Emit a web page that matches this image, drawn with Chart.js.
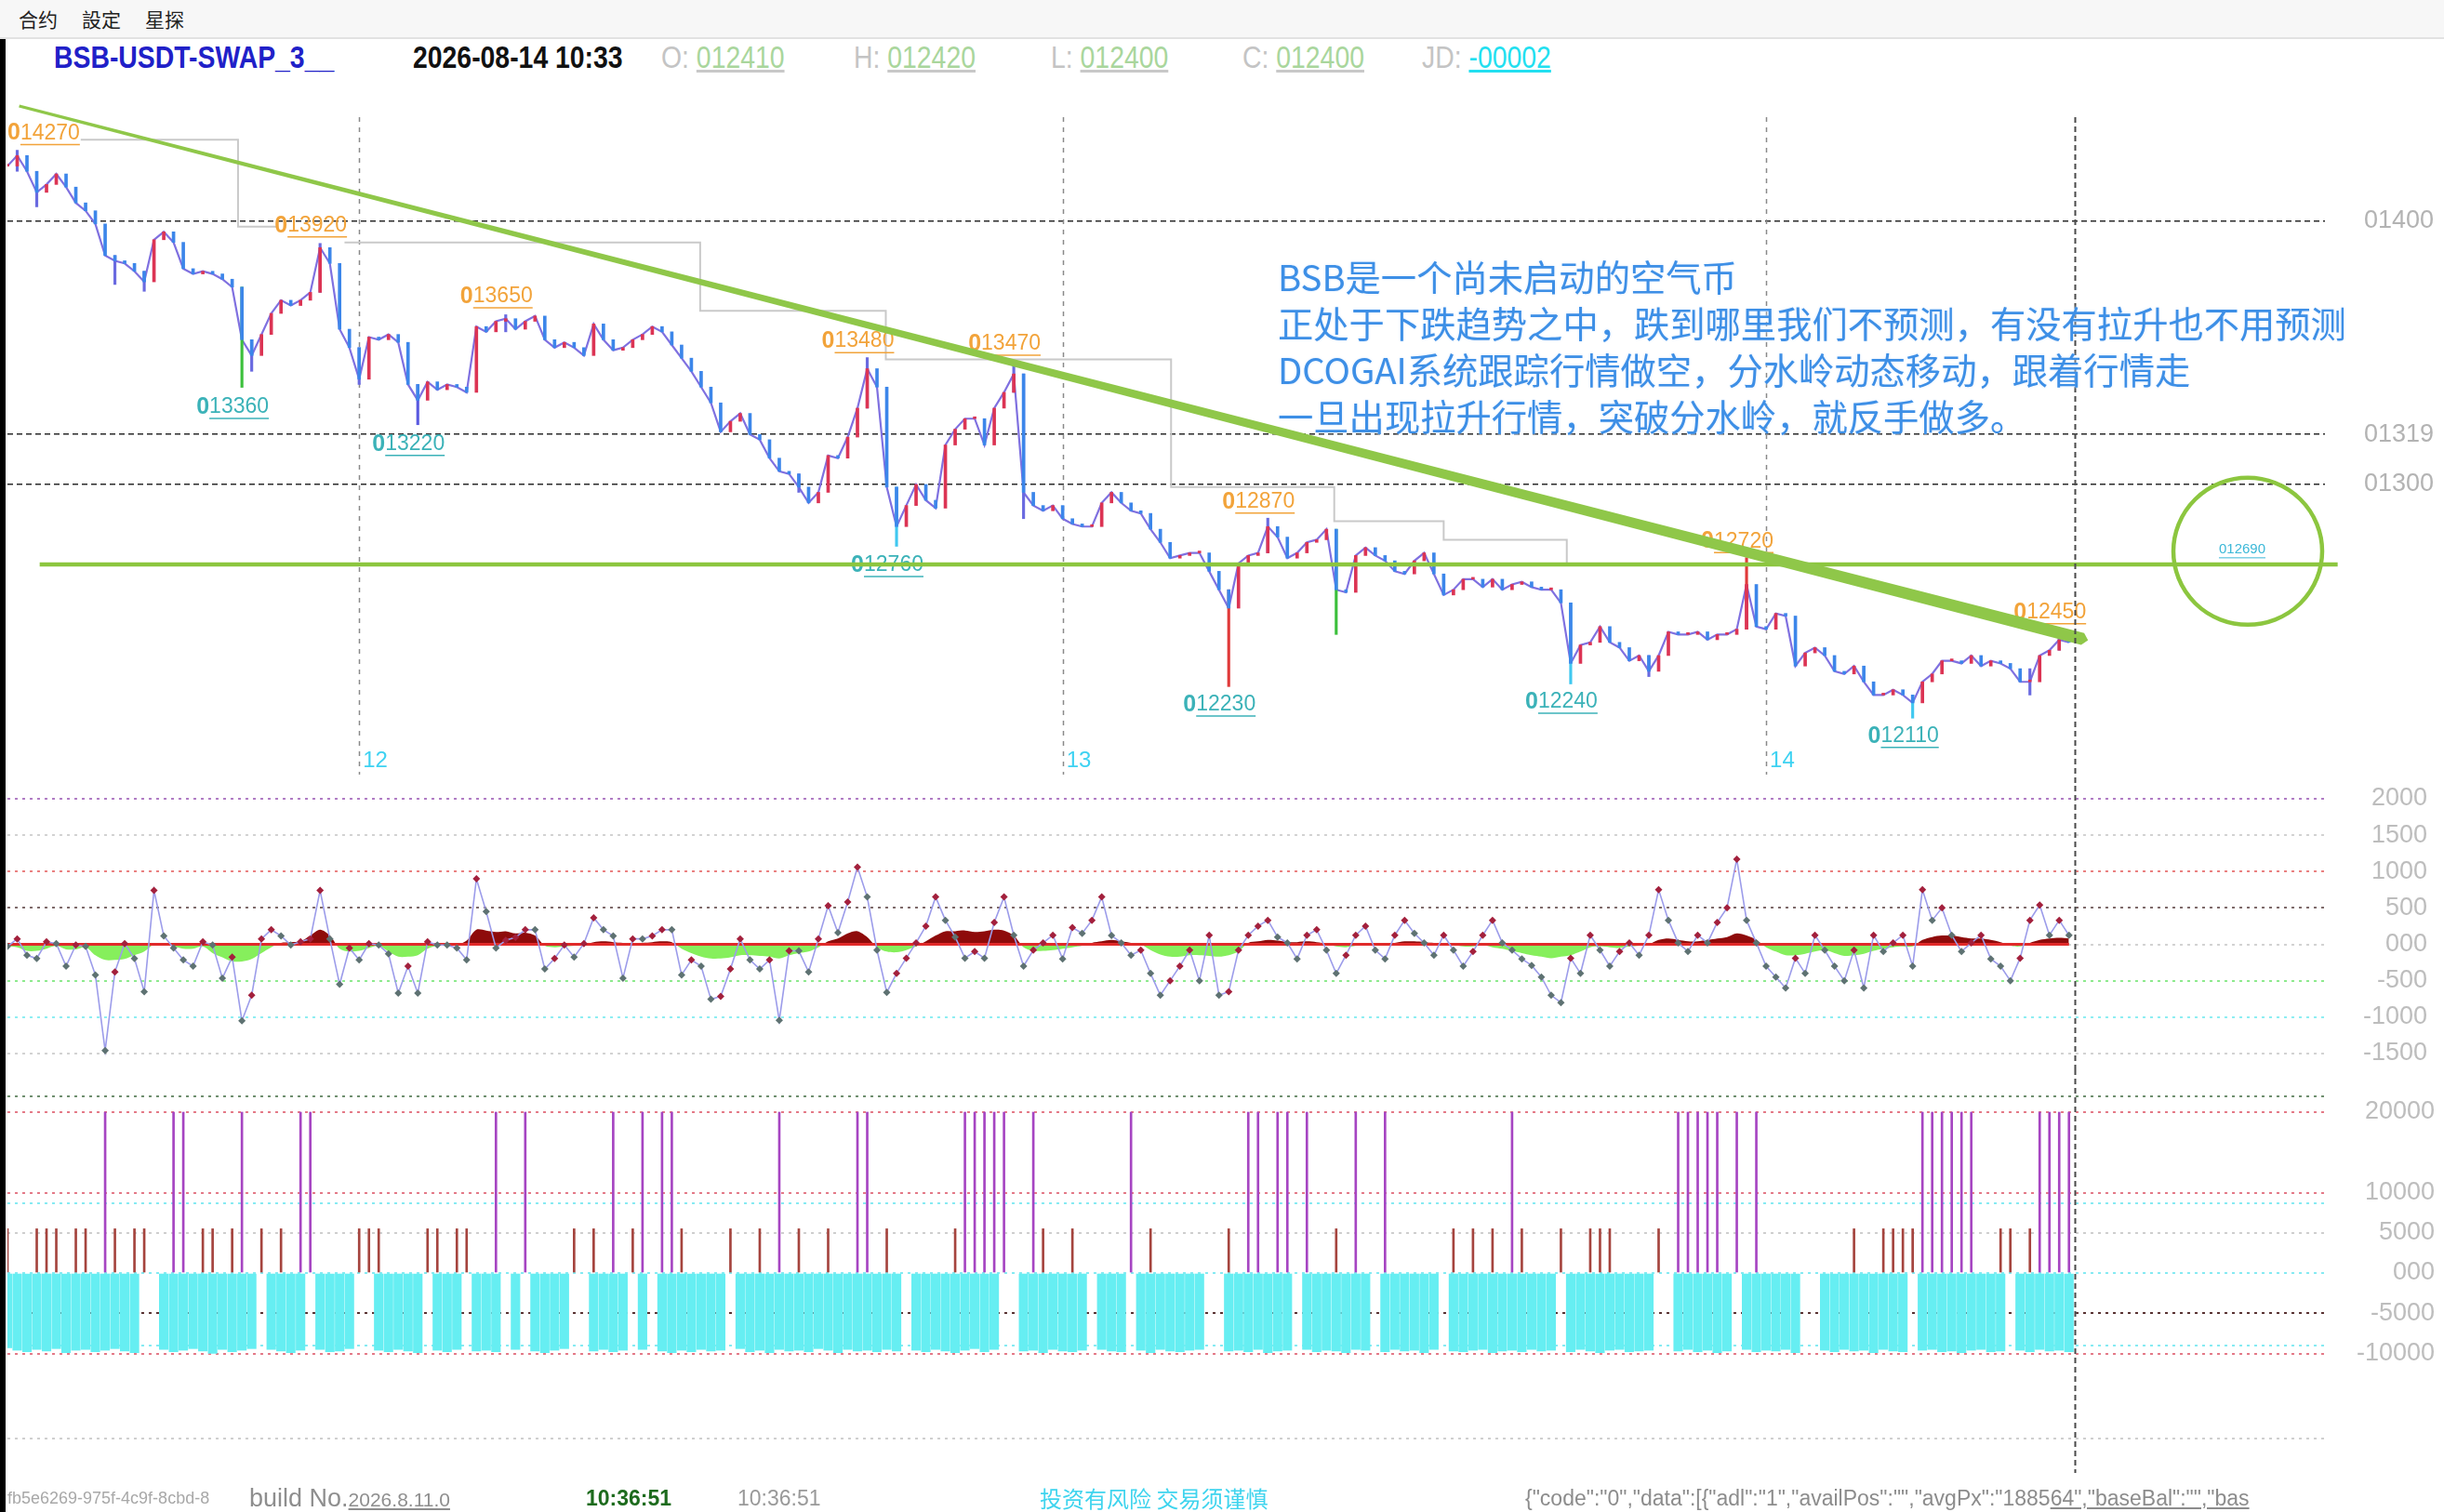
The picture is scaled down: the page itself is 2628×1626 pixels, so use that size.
<!DOCTYPE html>
<html><head><meta charset="utf-8">
<script src="https://cdn.jsdelivr.net/npm/chart.js@4.4.1/dist/chart.umd.min.js"></script>
<style>
html,body{margin:0;padding:0;background:#fff;width:2628px;height:1626px;overflow:hidden;font-family:'Liberation Sans',Arial,sans-serif;}
canvas{position:absolute;left:0;}
#menu{position:absolute;left:0;top:0;width:2628px;height:40px;background:#f7f7f7;border-bottom:2px solid #e2e2e2;}
#menu span{position:absolute;top:8px;font-size:21px;line-height:24px;color:#222;font-family:'Noto Sans CJK SC',sans-serif;}
#strip{position:absolute;left:0;top:42px;width:6px;height:1584px;background:#000;z-index:5;}
.hd{position:absolute;top:42px;line-height:40px;font-size:33px;transform:scaleX(0.86);transform-origin:0 50%;white-space:nowrap;}
.g{color:#c4c4c4;}
.v{color:#a9d69c;text-decoration:underline;text-decoration-color:#c8c8c8;}
#note{position:absolute;left:1374px;top:272px;font-family:'Noto Sans CJK SC',sans-serif;font-size:38.3px;line-height:50px;color:#3d8fe6;white-space:nowrap;text-shadow:0 0 3px #d8e8ff;z-index:3;}
.ft{position:absolute;top:1596px;line-height:30px;white-space:nowrap;z-index:4;}
</style></head>
<body>
<div id="menu"><span style="left:20px">合约</span><span style="left:88px">設定</span><span style="left:156px">星探</span></div>
<div id="strip"></div>
<div class="hd" style="left:58px;color:#2020c8;font-weight:bold;">BSB-USDT-SWAP_3__</div>
<div class="hd" style="left:444px;color:#111;font-weight:bold;">2026-08-14 10:33</div>
<div class="hd" style="left:711px;"><span class="g">O: </span><span class="v">012410</span></div>
<div class="hd" style="left:918px;"><span class="g">H: </span><span class="v">012420</span></div>
<div class="hd" style="left:1130px;"><span class="g">L: </span><span class="v">012400</span></div>
<div class="hd" style="left:1336px;"><span class="g">C: </span><span class="v">012400</span></div>
<div class="hd" style="left:1529px;"><span class="g">JD: </span><span style="color:#22dff0;text-decoration:underline;">-00002</span></div>
<div id="note">BSB是一个尚未启动的空气币<br>正处于下跌趋势之中，跌到哪里我们不预测，有没有拉升也不用预测<br>DCOGAI系统跟踪行情做空，分水岭动态移动，跟着行情走<br>一旦出现拉升行情，突破分水岭，就反手做多。</div>
<canvas id="c1" width="2628" height="745" style="top:100px;width:2628px;height:745px;"></canvas>
<canvas id="c2" width="2628" height="305" style="top:845px;width:2628px;height:305px;"></canvas>
<canvas id="c3" width="2628" height="450" style="top:1150px;width:2628px;height:450px;"></canvas>
<div class="ft" style="left:8px;font-size:18px;color:#a8a8a8;">fb5e6269-975f-4c9f-8cbd-8</div>
<div class="ft" style="left:268px;font-size:27px;color:#8e8e8e;">build No.<span style="font-size:21px;text-decoration:underline;">2026.8.11.0</span></div>
<div class="ft" style="left:630px;font-size:23px;color:#1d6b1d;font-weight:bold;">10:36:51</div>
<div class="ft" style="left:793px;font-size:23px;color:#999;">10:36:51</div>
<div class="ft" style="left:1118px;font-size:24px;color:#3fd4ee;font-family:'Noto Sans CJK SC',sans-serif;">投资有风险 交易须谨慎</div>
<div class="ft" style="left:1640px;font-size:23px;color:#8c8c8c;">{"code":"0","data":[{"adl":"1","availPos":"","avgPx":"1885<span style="text-decoration:underline;">64","baseBal":"","bas</span></div>
<script>
// ---------------- DATA ----------------
// 20-minute bars from Aug 11 12:00 to Aug 14 10:20 (index 0..211)
const closes = [
0.1421,0.1425,0.1419,0.1411,0.1414,0.1418,0.1413,0.1407,0.1404,0.1399,
0.1387,0.1385,0.1384,0.1381,0.1377,0.1393,0.1396,0.1392,0.1382,0.1380,
0.1381,0.1380,0.1378,0.1375,0.1355,0.1349,0.1357,0.1365,0.1370,0.1368,
0.1370,0.1373,0.1390,0.1384,0.1359,0.1352,0.1340,0.1356,0.1355,0.1357,
0.1354,0.1338,0.1332,0.1339,0.1336,0.1338,0.1337,0.1335,0.1360,0.1358,
0.1362,0.1363,0.1359,0.1362,0.1364,0.1355,0.1352,0.1354,0.1352,0.1349,
0.1361,0.1355,0.1351,0.1352,0.1355,0.1357,0.1360,0.1358,0.1353,0.1348,
0.1343,0.1337,0.1331,0.1320,0.1324,0.1327,0.1319,0.1317,0.1310,0.1305,
0.1304,0.1299,0.1293,0.1297,0.1311,0.1310,0.1318,0.1329,0.1344,0.1337,
0.1299,0.1284,0.1292,0.1300,0.1294,0.1291,0.1315,0.1321,0.1325,0.1325,
0.1315,0.1329,0.1335,0.1342,0.1297,0.1292,0.1290,0.1292,0.1287,0.1285,
0.1284,0.1284,0.1293,0.1297,0.1293,0.1290,0.1289,0.1283,0.1278,0.1272,
0.1273,0.1274,0.1274,0.1267,0.1260,0.1253,0.1270,0.1273,0.1274,0.1284,
0.1280,0.1272,0.1274,0.1278,0.1279,0.1283,0.1260,0.1259,0.1273,0.1276,
0.1273,0.1271,0.1267,0.1266,0.1271,0.1274,0.1266,0.1258,0.1260,0.1264,
0.1264,0.1261,0.1264,0.1260,0.1262,0.1263,0.1261,0.1260,0.1260,0.1255,
0.1232,0.1239,0.1240,0.1246,0.1240,0.1238,0.1233,0.1235,0.1229,0.1235,
0.1244,0.1243,0.1243,0.1244,0.1241,0.1243,0.1243,0.1245,0.1262,0.1246,
0.1245,0.1251,0.1250,0.1231,0.1236,0.1238,0.1235,0.1229,0.1228,0.1231,
0.1225,0.1220,0.1220,0.1222,0.1220,0.1217,0.1225,0.1228,0.1233,0.1233,
0.1232,0.1235,0.1231,0.1233,0.1232,0.1230,0.1225,0.1225,0.1235,0.1237,
0.1241,0.1240];
// wicks: [index, low, high]
const wicks = [
[1,0.1419,0.1427],[3,0.14055,0.1414],[11,0.1376,0.1387],[14,0.13734,0.1381],
[24,0.13369,0.1375],[25,0.1343,0.1355],[32,0.1373,0.13916],[36,0.1338,0.1352],
[42,0.13227,0.1338],[51,0.1358,0.13645],[81,0.1297,0.1304],[88,0.1329,0.13482],
[91,0.12765,0.1299],[103,0.1335,0.13472],[104,0.1287,0.1342],[125,0.12232,0.1260],
[129,0.1274,0.12872],[136,0.1243,0.1283],[160,0.12242,0.1255],[168,0.1227,0.1235],
[178,0.1245,0.12722],[195,0.12112,0.1220],[207,0.1220,0.1230],[210,0.1237,0.12452]];
// labelled extremes: [index, price, text]
const highLabels = [[1,0.1427,'014270'],[32,0.1392,'013920'],[51,0.1365,'013650'],[88,0.1348,'013480'],
[103,0.1347,'013470'],[129,0.1287,'012870'],[178,0.1272,'012720'],[210,0.1245,'012450']];
const lowLabels = [[24,0.1336,'013360'],[42,0.1322,'013220'],[91,0.1276,'012760'],[125,0.1223,'012230'],
[160,0.1224,'012240'],[195,0.1211,'012110']];
// stepped resistance line [index, price] (null = break)
const stepLine = [[7.5,0.1431],[23.6,0.1431],[23.6,0.1398],[27.6,0.1398],[31,null],[34.5,0.1392],
[70.9,0.1392],[70.9,0.1366],[89.9,0.1366],[89.9,0.13475],[119.1,0.13475],[119.1,0.1299],
[135.8,0.1299],[135.8,0.1286],[147,0.1286],[147,0.1279],[159.6,0.1279],[159.6,0.1270]];
const trendLine = [[1.2,0.14438],[212.4,0.12413]];
const waterLine = [[3.3,0.12696],[238.5,0.12696]];
const circleAt = [229.3,0.12746];
const circleText = '012690';
const priceTicks = [0.1300,0.1319,0.1400];
const dayTicks = [36,108,180];
const dayLabels = ['12','13','14'];
const cursorAt = 211.6;

const osc = [
-30,75,-150,-195,35,10,-300,-10,-30,-420,
-1460,-380,10,-195,-650,740,115,-50,-215,-300,
35,-10,-465,-175,-1050,-700,75,200,115,-10,
35,75,740,75,-550,-50,-215,10,-10,-130,
-670,-300,-670,35,-10,-10,-50,-215,900,450,
-50,55,95,200,200,-340,-195,-10,-175,10,
365,200,115,-465,75,75,115,200,200,-420,
-215,-300,-755,-715,-340,75,-215,-340,-215,-1045,
-90,-90,-380,75,530,160,580,1060,650,-80,
-660,-400,-190,20,250,650,330,100,-190,-100,
-190,300,650,125,-300,-80,20,125,-200,230,
150,330,650,120,20,-150,-80,-400,-700,-500,
-300,-80,-500,125,-700,-650,-80,125,250,330,
100,20,-200,125,200,-80,-400,-150,125,250,
-80,-200,125,330,150,20,-150,125,-80,-300,
-100,125,330,20,-80,-200,-290,-450,-700,-800,
-190,-400,125,-80,-300,-100,20,-150,125,750,
330,20,-100,125,20,300,500,1170,330,20,
-300,-450,-600,-190,-400,125,-80,-300,-500,-80,
-600,125,-100,20,125,-300,750,330,500,125,
-100,20,125,-200,-300,-500,-190,330,540,125,
330,125];
const oscArea = [
-30,-40,-90,-90,-60,-20,-70,-70,-40,-150,
-215,-215,-200,-150,-100,0,10,-30,-60,-60,
-30,-120,-180,-235,-235,-200,-120,-40,20,30,
40,120,200,120,-60,-100,-90,-50,-20,-100,
-170,-170,-150,-60,-20,-10,-10,50,200,190,
170,180,150,160,120,-20,-40,-30,-20,-10,
30,40,30,20,10,20,30,40,30,-60,
-120,-170,-195,-195,-180,-150,-150,-160,-170,-195,
-150,-120,-100,-40,40,80,150,180,100,-40,
-100,-110,-80,-30,40,120,180,180,190,170,
180,200,190,120,-40,-90,-90,-80,-60,-40,
-20,20,40,60,40,20,0,-80,-140,-170,
-170,-150,-150,-160,-170,-150,-100,20,40,60,
50,30,30,40,30,10,-30,-40,-20,10,
20,10,20,40,40,30,20,10,-10,-30,
-30,-10,-40,-60,-90,-120,-150,-170,-190,-170,
-150,-100,-40,-30,-40,-50,-30,-20,0,60,
80,60,40,40,60,80,100,150,120,60,
-40,-100,-150,-150,-130,-100,-80,-120,-160,-150,
-130,-90,-60,-40,-30,-30,60,100,120,120,
100,80,80,60,30,-20,-30,20,60,80,
90,80];
const zeroLine = [[0,0],[211,0]];
const oscTicks = [-1500,-1000,-500,0,500,1000,1500,2000];

const flowBars = [
-9300,-9600,-9800,-9500,-9700,-9400,-9900,-9600,-9500,-9800,
-9600,-9400,-9700,-9900,null,null,-9500,-9800,-9600,-9400,
-9700,-10000,-9500,-9800,-9600,-9400,null,-9500,-9700,-9900,
-9600,null,-9500,-9800,-9700,-9400,null,null,-9600,-9800,
-9500,-9700,-9900,null,-9600,-9800,-9500,null,-9700,-9600,
-9800,null,-9500,null,-9700,-9900,-9600,-9400,null,null,
-9700,-9500,-9800,-9600,null,-9500,null,-9700,-9900,-9600,
-9800,-9500,-9700,-9600,null,-9400,-9800,-9600,-9900,-9500,
-9700,-9600,-9800,-9400,-9600,-9900,-9500,-9700,-9600,-9800,
-9500,-9700,null,-9600,-9800,-9500,-9700,-9900,-9600,-9400,
-9800,-9500,null,null,-9700,-9600,-9900,-9500,-9700,-9800,
-9600,null,-9500,-9700,-9800,null,-9600,-9900,-9500,-9700,
-9800,-9600,-9500,null,null,-9700,-9600,-9800,-9500,-9900,
-9700,-9600,null,-9500,-9800,-9600,-9700,-9900,-9500,-9600,
null,-9800,-9500,-9700,-9600,-9900,-9500,null,-9700,-9800,
-9600,-9500,-9900,-9700,-9600,-9800,-9500,-9700,-9600,null,
-9800,-9500,-9700,-9900,-9600,-9500,-9800,-9700,-9600,null,
null,-9700,-9500,-9800,-9600,-9900,-9700,null,-9500,-9800,
-9600,-9700,-9500,-9900,null,null,-9600,-9800,-9500,-9700,
-9600,-9900,-9500,-9700,-9800,null,-9600,-9500,-9800,-9700,
-9900,-9600,-9500,-9800,-9700,null,-9600,-9800,-9500,-9700,
-9600,-9800];
const bigSpikeIdx = [10,17,18,24,30,31,50,53,62,65,67,68,79,87,88,98,99,100,101,102,105,115,127,128,130,131,133,138,141,154,171,172,173,174,175,177,179,196,197,198,199,200,201,208,209,210,211];
const bigSpikeValue = 20000;
const smallSpikeIdx = [0,3,4,5,7,8,11,13,14,20,21,23,26,28,36,37,38,43,44,46,47,58,60,64,69,74,77,81,84,90,97,106,109,117,125,136,148,150,152,155,159,162,163,164,169,189,192,193,194,195,204,205,207];
const smallSpikeValue = 5500;
const flowTicks = [22000,20000,10000,8700,5000,0,-5000,-9000,-10000,-20600];
const flowLabelled = [20000,10000,5000,0,-5000,-10000];

// ---------------- STYLE / BUILD ----------------
const GREEN = '#8cc63f';
const X_MIN = 0, X_MAX = 237.2;
const FONT = "'Liberation Sans', Arial, sans-serif";
const wickColor = {24:'#3cc03c',125:'#e03a3a',136:'#3cc03c',160:'#40c8f0',178:'#e03a3a',195:'#40c8f0',91:'#40c8f0',42:'#5a5ae0'};

// chart area always spans page x 8..2500; axis width + right padding = 128
function fitAxis(w){ return s => { s.width = w; s.paddingTop = 0; s.paddingBottom = 0; }; }
function xAxis(){
  return {type:'linear', min:X_MIN, max:X_MAX, offset:false, display:false,
    ticks:{display:false}, grid:{display:false, offset:false}};
}
function cursorPlugin(yTop, yBottom){
  return {id:'cursor', afterDatasetsDraw(chart){
    const {ctx, scales:{x}} = chart;
    const px = Math.round(x.getPixelForValue(cursorAt)) + 0.5;
    ctx.save(); ctx.strokeStyle = '#4a4a4a'; ctx.lineWidth = 2; ctx.setLineDash([6,4]);
    ctx.beginPath(); ctx.moveTo(px, yTop); ctx.lineTo(px, yBottom === null ? chart.height : yBottom); ctx.stroke();
    ctx.restore();
  }};
}
function baseOpts(rightPad){
  return {responsive:false, maintainAspectRatio:false, animation:false, devicePixelRatio:1, events:[],
    layout:{padding:{left:8, right:rightPad, top:0, bottom:0}},
    plugins:{legend:{display:false}, tooltip:{enabled:false}}};
}

// ---- panel 1: price ----
const dayLines = {id:'dayLines', beforeDatasetsDraw(chart){
  const {ctx, chartArea:a, scales:{x}} = chart;
  ctx.save(); ctx.strokeStyle = '#8a8a8a'; ctx.lineWidth = 1.5; ctx.setLineDash([5,6]);
  dayTicks.forEach(d => { const px = Math.round(x.getPixelForValue(d)) + 0.5;
    ctx.beginPath(); ctx.moveTo(px, 26); ctx.lineTo(px, a.bottom - 12); ctx.stroke(); });
  ctx.restore();
}};
function drawTag(ctx, cx, cy, text, color, left){
  const lead = text[0], rest = text.slice(1);
  ctx.font = `bold 25px ${FONT}`; const w1 = ctx.measureText(lead).width;
  ctx.font = `23px ${FONT}`; const w2 = ctx.measureText(rest).width;
  let x0 = cx - (w1 + w2) / 2;
  if (x0 < left) x0 = left;
  ctx.fillStyle = color; ctx.textBaseline = 'middle'; ctx.textAlign = 'left';
  ctx.font = `bold 25px ${FONT}`; ctx.fillText(lead, x0, cy);
  ctx.font = `23px ${FONT}`; ctx.fillText(rest, x0 + w1, cy);
  ctx.strokeStyle = color; ctx.lineWidth = 1.5;
  ctx.beginPath(); ctx.moveTo(x0 + w1, cy + 12); ctx.lineTo(x0 + w1 + w2, cy + 12); ctx.stroke();
}
const annot = {id:'annot', afterDatasetsDraw(chart){
  const {ctx, chartArea:a, scales:{x, y}} = chart;
  ctx.save();
  highLabels.forEach(([i,p,t]) => drawTag(ctx, x.getPixelForValue(i) - 10, y.getPixelForValue(p) - 18, t, '#f2a33a', a.left));
  lowLabels.forEach(([i,p,t]) => drawTag(ctx, x.getPixelForValue(i) - 10, y.getPixelForValue(p) + 19, t, '#3bb2b8', a.left));
  // horizontal watershed line
  ctx.strokeStyle = GREEN; ctx.lineWidth = 4.5;
  ctx.beginPath();
  ctx.moveTo(x.getPixelForValue(waterLine[0][0]), y.getPixelForValue(waterLine[0][1]));
  ctx.lineTo(x.getPixelForValue(waterLine[1][0]), y.getPixelForValue(waterLine[1][1]));
  ctx.stroke();
  // tapered trend line
  const x1 = x.getPixelForValue(trendLine[0][0]), y1 = y.getPixelForValue(trendLine[0][1]);
  const x2 = x.getPixelForValue(trendLine[1][0]), y2 = y.getPixelForValue(trendLine[1][1]);
  const len = Math.hypot(x2-x1, y2-y1), nx = -(y2-y1)/len, ny = (x2-x1)/len;
  const w1 = 1.6, w2 = 6.5;
  ctx.fillStyle = '#8fc749';
  ctx.beginPath();
  ctx.moveTo(x1 + nx*w1, y1 + ny*w1); ctx.lineTo(x2 + nx*w2, y2 + ny*w2);
  ctx.lineTo(x2 + (x2-x1)/len*6, y2 + (y2-y1)/len*6);
  ctx.lineTo(x2 - nx*w2, y2 - ny*w2); ctx.lineTo(x1 - nx*w1, y1 - ny*w1);
  ctx.closePath(); ctx.fill();
  // circle
  const cx = x.getPixelForValue(circleAt[0]), cy = y.getPixelForValue(circleAt[1]);
  ctx.strokeStyle = GREEN; ctx.lineWidth = 4.5;
  ctx.beginPath(); ctx.ellipse(cx, cy, 80, 79, 0, 0, Math.PI*2); ctx.stroke();
  ctx.font = `15px ${FONT}`; ctx.fillStyle = '#3cb8d8'; ctx.textAlign = 'center'; ctx.textBaseline = 'middle';
  ctx.fillText(circleText, cx - 6, cy - 2);
  const tw = ctx.measureText(circleText).width;
  ctx.strokeStyle = '#3cb8d8'; ctx.lineWidth = 1;
  ctx.beginPath(); ctx.moveTo(cx - 6 - tw/2, cy + 7); ctx.lineTo(cx - 6 + tw/2, cy + 7); ctx.stroke();
  // day labels
  ctx.font = `24px ${FONT}`; ctx.fillStyle = '#3ed2f2'; ctx.textAlign = 'left';
  dayTicks.forEach((d,k) => ctx.fillText(dayLabels[k], x.getPixelForValue(d) + 4, a.bottom - 27));
  ctx.restore();
}};

new Chart(document.getElementById('c1'), {
  type:'bar',
  data:{datasets:[
    {type:'line', data: stepLine.map(([i,p])=>({x:i, y:p})), borderColor:'#c9c9c9', borderWidth:2, pointRadius:0, spanGaps:false, order:5},
    {type:'line', data: closes.map((c,i)=>({x:i, y:c})), borderColor:'#7f70e0', borderWidth:2.2, pointRadius:0, order:4},
    {type:'bar', data: wicks.map(w=>({x:w[0], y:[w[1], w[2]]})), backgroundColor: wicks.map(w=>wickColor[w[0]] || '#6a6ae0'), barThickness:2.5, grouped:false, order:3},
    {type:'bar', data: closes.map((c,i)=>({x:i, y:[i ? closes[i-1] : c, c]})), backgroundColor: closes.map((c,i)=> (i && c < closes[i-1]) ? '#3c86ea' : '#dc3454'), barThickness:3, minBarLength:2, grouped:false, order:2}
  ]},
  options:{...baseOpts(0),
    scales:{
      x: xAxis(),
      y:{position:'right', min:0.118551, max:0.144876,
         afterFit: fitAxis(128),
         afterBuildTicks: s => { s.ticks = priceTicks.map(v=>({value:v})); },
         ticks:{padding:42, crossAlign:'near', color:'#b3b3b3', font:{family:FONT, size:27},
                callback: v => '0' + Math.round(v*10000)},
         grid:{drawTicks:false, color:'#2a2a2a', lineWidth:1.5},
         border:{display:false, dash:[6,4]}}
    }},
  plugins:[dayLines, annot, cursorPlugin(26, null)]
});

// ---- panel 2: oscillator ----
const oscGridColor = {'2000':'#b07cc4','1500':'#d2d2d2','1000':'#ea8080','500':'#7e6a6a','0':'#d2d2d2','-500':'#8eea8e','-1000':'#8eeef2','-1500':'#d2d2d2'};
new Chart(document.getElementById('c2'), {
  type:'line',
  data:{datasets:[
    {data: oscArea.map((v,i)=>({x:i, y:v})), borderWidth:0, pointRadius:0, tension:0.3,
     fill:{target:'origin', above:'#8e0b0b', below:'#86ef5c'}, order:3},
    {data: zeroLine.map(([i,v])=>({x:i, y:v})), borderColor:'#e02a2a', borderWidth:3, pointRadius:0, order:2},
    {data: osc.map((v,i)=>({x:i, y:v})), borderColor:'#9c9cea', borderWidth:1.6, pointStyle:'rectRot', pointRadius:4,
     pointBorderWidth:0, pointBackgroundColor: osc.map((v,i)=> (i && v > osc[i-1]) ? '#a3203c' : '#5e7272'), order:1}
  ]},
  options:{...baseOpts(18),
    scales:{
      x: xAxis(),
      y:{position:'right', min:-1667, max:2127,
         afterFit: fitAxis(110),
         afterBuildTicks: s => { s.ticks = oscTicks.map(v=>({value:v})); },
         ticks:{padding:24, crossAlign:'far', color:'#bdbdbd', font:{family:FONT, size:27},
                callback: v => String(v/100) + '00'},
         grid:{drawTicks:false, lineWidth:2, color: c => oscGridColor[String(c.tick && c.tick.value)] || '#ddd'},
         border:{display:false, dash:[3,5]}}
    }},
  plugins:[cursorPlugin(0, null)]
});

// ---- panel 3: flow bars ----
const flowGridColor = {'22000':'#6f8f6f','20000':'#e47a88','10000':'#e47a88','8700':'#86eaf2','5000':'#cfcfcf','0':'#86eaf2','-5000':'#5a3434','-9000':'#86eaf2','-10000':'#e47a88','-20600':'#cfcfcf'};
const bigData = closes.map((c,i)=>({x:i, y: bigSpikeIdx.includes(i) ? bigSpikeValue : null}));
const smallData = closes.map((c,i)=>({x:i, y: smallSpikeIdx.includes(i) ? smallSpikeValue : null}));
new Chart(document.getElementById('c3'), {
  type:'bar',
  data:{datasets:[
    {data: flowBars.map((v,i)=>({x:i, y:v})), backgroundColor:'#66eef2', barThickness:9.5, grouped:false, order:3},
    {data: bigData, backgroundColor:'#a645c2', barThickness:2, grouped:false, order:2},
    {data: smallData, backgroundColor:'#a5443e', barThickness:2, grouped:false, order:1}
  ]},
  options:{...baseOpts(10),
    scales:{
      x: xAxis(),
      y:{position:'right', min:-26705, max:25318,
         afterFit: fitAxis(118),
         afterBuildTicks: s => { s.ticks = flowTicks.map(v=>({value:v})); },
         ticks:{padding:16, crossAlign:'far', color:'#bdbdbd', font:{family:FONT, size:27},
                callback: v => flowLabelled.includes(v) ? String(v/100) + '00' : ''},
         grid:{drawTicks:false, lineWidth:2, color: c => flowGridColor[String(c.tick && c.tick.value)] || '#ddd'},
         border:{display:false, dash:[3,5]}}
    }},
  plugins:[cursorPlugin(0, 434)]
});
</script>
</body></html>
